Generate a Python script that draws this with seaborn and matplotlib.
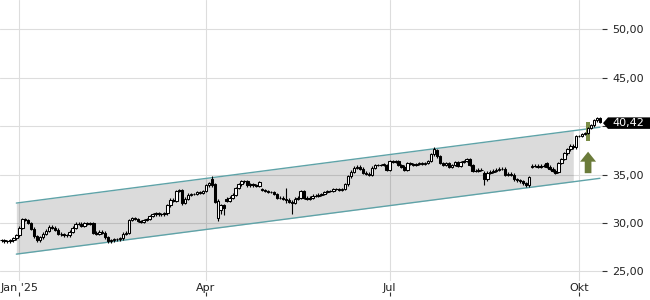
import numpy as np
import pandas as pd
import matplotlib
matplotlib.use("Agg")
import matplotlib.pyplot as plt
import matplotlib.transforms as mtransforms
from matplotlib.patches import Polygon
import seaborn as sns

# ---------------- data ----------------
holidays = ["2024-12-25", "2024-12-26", "2025-01-01", "2025-04-18",
            "2025-04-21", "2025-05-01", "2025-07-04", "2025-09-01"]
first_day, last_day = "2024-12-20", "2025-10-10"

closes_dec = [28.2, 28.1, 28.1, 28.2, 28.4, 28.7]
closes_jan = [29.5, 30.4, 30.3, 30.0, 29.4, 28.6, 28.2, 28.5, 28.9, 29.2, 29.6,
              29.5, 29.3, 28.9, 28.8, 28.7, 28.7, 29.1, 29.5, 29.9, 29.9, 29.7]
closes_feb = [30.0, 29.9, 30.0, 29.0, 28.9, 29.1, 29.0, 28.5, 28.1, 28.2,
              28.3, 28.3, 28.4, 28.9, 29.0, 30.3, 30.5, 30.4, 30.2, 30.1]
closes_mar = [30.3, 30.4, 30.7, 30.9, 31.0, 30.9, 30.9, 31.0, 31.8, 32.4, 32.3,
              33.3, 33.4, 32.1, 32.5, 32.9, 33.0, 33.0, 33.2, 33.1, 33.3]
closes_apr = [33.9, 34.1, 33.9, 32.2, 32.3, 31.8, 31.5, 32.3, 32.6, 32.9,
              33.6, 34.0, 34.3, 34.3, 33.9, 34.0, 33.9, 33.8, 34.2, 33.4]
closes_may = [33.3, 33.2, 33.2, 33.0, 32.6, 32.6, 32.5, 32.4, 32.2, 32.1, 32.5,
              32.6, 33.3, 32.6, 32.5, 32.6, 32.8, 32.8, 32.9, 33.0, 33.2]
closes_jun = [33.3, 33.3, 33.5, 33.5, 33.4, 33.5, 34.0, 34.8, 35.3, 35.7, 35.8,
              35.6, 35.2, 35.1, 35.0, 35.7, 36.0, 36.0, 36.0, 36.1, 35.5]
closes_jul = [36.4, 36.3, 36.4, 36.0, 35.8, 35.5, 36.2, 36.1, 36.0, 36.1, 36.2,
              36.1, 36.2, 36.4, 37.1, 37.6, 36.9, 36.2, 36.0, 36.2, 35.8, 36.0]
closes_aug = [36.3, 35.9, 36.3, 36.4, 36.6, 36.0, 35.4, 35.4, 35.5, 35.5, 34.5,
              35.2, 35.3, 35.4, 35.5, 35.6, 35.6, 35.0, 35.1, 35.0, 34.5]
closes_sep = [34.4, 34.3, 34.1, 33.9, 34.7, 35.9, 35.9, 35.8, 35.9, 35.9, 35.8,
              35.6, 35.4, 35.2, 36.2, 36.6, 37.2, 37.6, 38.0, 37.8, 39.0]
closes_oct = [39.0, 39.2, 39.3, 39.8, 40.1, 40.6, 40.8, 40.42]

open_overrides = {"2025-04-03": 34.5, "2025-04-04": 34.0, "2025-04-07": 30.5,
                  "2025-04-08": 31.3, "2025-04-10": 32.5, "2025-04-30": 33.5,
                  "2025-06-30": 36.0, "2025-07-24": 37.5, "2025-08-15": 35.2,
                  "2025-09-09": 35.8, "2025-09-16": 36.2, "2025-09-22": 35.3}
low_overrides = {"2025-03-20": 31.8, "2025-04-07": 30.2, "2025-04-08": 30.9,
                 "2025-04-09": 30.8, "2025-05-13": 32.1, "2025-05-15": 30.9,
                 "2025-08-15": 33.9}
high_overrides = {"2025-04-03": 34.8, "2025-05-13": 33.6, "2025-07-23": 37.8}

channel_dates = ["2024-12-31", "2025-10-10"]
channel_upper = [32.05, 39.89]
channel_lower = [26.77, 34.61]
shade_end_date = "2025-09-29"

signal_date = "2025-10-06"
signal_bar = [38.50, 40.47]
signal_arrow = [35.14, 37.36]

month_tick_dates = ["2025-01-02", "2025-04-01", "2025-07-01", "2025-10-01"]
month_tick_labels = ["Jan '25", "Apr", "Jul", "Okt"]
y_ticks = [25, 30, 35, 40, 45, 50]

# ---------------- build table ----------------
dates = pd.bdate_range(first_day, last_day)
dates = dates[~dates.isin(pd.to_datetime(holidays))]
closes = np.array(closes_dec + closes_jan + closes_feb + closes_mar + closes_apr +
                  closes_may + closes_jun + closes_jul + closes_aug + closes_sep +
                  closes_oct)
assert len(dates) == len(closes), (len(dates), len(closes))
df = pd.DataFrame({"date": dates, "close": closes})
df["idx"] = np.arange(len(df))
df["open"] = df["close"].shift(1).fillna(df["close"].iloc[0])
for d, v in open_overrides.items():
    df.loc[df["date"] == pd.Timestamp(d), "open"] = v
wick = 0.14
df["high"] = np.maximum(df["open"], df["close"]) + wick
df["low"] = np.minimum(df["open"], df["close"]) - wick
for d, v in low_overrides.items():
    df.loc[df["date"] == pd.Timestamp(d), "low"] = v
for d, v in high_overrides.items():
    df.loc[df["date"] == pd.Timestamp(d), "high"] = v

def idx_of(d):
    return int(df.loc[df["date"] == pd.Timestamp(d), "idx"].iloc[0])

# ---------------- figure ----------------
sns.set_style("white")
plt.rcParams["font.family"] = ["DejaVu Sans"]

W, H, DPI = 650, 300, 100
fig = plt.figure(figsize=(W / DPI, H / DPI), dpi=DPI)
ax = fig.add_axes([0, 19 / H, 602 / W, 281 / H])
ax.set_xlim(-0.51, 202.7)
ax.set_ylim(23.99, 53.05)

grid_c = "#dddddd"
ax.set_axisbelow(True)
ax.grid(True, color=grid_c, lw=0.8)
for s in ax.spines.values():
    s.set_visible(False)

# channel
ch_x = [idx_of(d) for d in channel_dates]
shade_x = np.arange(ch_x[0], idx_of(shade_end_date) + 1)
ax.fill_between(shade_x, np.interp(shade_x, ch_x, channel_lower),
                np.interp(shade_x, ch_x, channel_upper),
                color="black", alpha=0.14, lw=0, zorder=1.5)
teal = "#5fa3a8"
sns.lineplot(x=ch_x, y=channel_upper, ax=ax, color=teal, lw=1.0, zorder=2)
sns.lineplot(x=ch_x, y=channel_lower, ax=ax, color=teal, lw=1.0, zorder=2)

# signal bar
sig = idx_of(signal_date)
ax.bar([sig], [signal_bar[1] - signal_bar[0]], bottom=[signal_bar[0]], width=1.15,
       color="#7b8d48", lw=0, zorder=2.8)

# candles
up = df["close"] >= df["open"]
ax.vlines(df["idx"], df["low"], df["high"], color="black", lw=0.8, zorder=3)
ax.bar(df["idx"], df["close"] - df["open"], bottom=df["open"], width=0.85,
       color=np.where(up, "white", "black"), edgecolor="black", linewidth=0.75,
       zorder=4)

# arrow
ax.arrow(sig, signal_arrow[0], 0, signal_arrow[1] - signal_arrow[0], width=2.26,
         head_width=5.4, head_length=1.03, length_includes_head=True,
         fc="#6b7b3a", ec="none", zorder=5)

# last price
last = df["close"].iloc[-1]

# y axis (right); the tick label hidden behind the price tag is left blank
ax.yaxis.tick_right()
ax.set_yticks(y_ticks)
ylabels = ["" if abs(v - last) < 1.2 else f"{v:.2f}".replace(".", ",") for v in y_ticks]
ax.set_yticklabels(ylabels)
ax.tick_params(axis="y", length=3.6, width=0.8, color="#333333", pad=4,
               labelsize=8, labelcolor="#222222")

# x axis
mt = [idx_of(d) for d in month_tick_dates]
ax.set_xticks(mt)
ax.set_xticklabels(month_tick_labels)
ax.tick_params(axis="x", length=0, pad=1.5, labelsize=8, labelcolor="#222222")
sec = ax.secondary_xaxis(-0.04)
sec.set_xticks(mt)
sec.tick_params(axis="x", length=3, width=0.8, color="#333333", labelbottom=False)
for s in sec.spines.values():
    s.set_visible(False)

# last price tag
base = mtransforms.blended_transform_factory(ax.transAxes, ax.transData)
x0, y0 = base.transform((1.0, last))
y0 -= 1.0
hh = 5.75
verts = [(x0 + 1, y0), (x0 + 6, y0 + hh), (x0 + 50, y0 + hh),
         (x0 + 50, y0 - hh), (x0 + 6, y0 - hh)]
poly = Polygon(verts, closed=True, fc="black", ec="none",
               transform=mtransforms.IdentityTransform(), zorder=10)
fig.add_artist(poly)
fig.text(x0 + 26.5, y0, f"{last:.2f}".replace(".", ","), color="white",
         fontsize=8, ha="center", va="center",
         transform=mtransforms.IdentityTransform(), zorder=11)

fig.savefig("out.png", dpi=DPI)
